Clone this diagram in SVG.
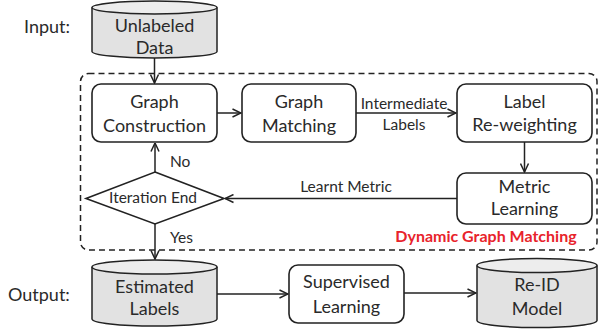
<svg xmlns="http://www.w3.org/2000/svg" width="599" height="331" viewBox="0 0 599 331">
<style>
text{font-family:Lato,"Liberation Sans",sans-serif;fill:#2a2a2a;font-size:18px}
.c{text-anchor:middle}
.s{font-size:15.5px}
.box{fill:#fff;stroke:#222;stroke-width:1.6}
.cylb{fill:#e2e2e2;stroke:#222;stroke-width:1.5}
.cylt{fill:#ededed;stroke:#222;stroke-width:1.5}
.ln{fill:none;stroke:#222;stroke-width:1.5}
.red{fill:#e8232b;font-weight:bold;font-size:16px}
</style>
<defs>
<marker id="ah" viewBox="0 0 10 10" refX="9.5" refY="5" markerWidth="10" markerHeight="10" markerUnits="userSpaceOnUse" orient="auto">
<path d="M1,1 L9.5,5 L1,9" fill="none" stroke="#222" stroke-width="1.5"/>
</marker>
</defs>
<rect x="80.5" y="73.5" width="516.5" height="176.5" rx="8" fill="none" stroke="#222" stroke-width="1.5" stroke-dasharray="6 4"/>
<text x="24" y="33">Input:</text>
<text x="8" y="301">Output:</text>
<g id="connectors">
<line class="ln" x1="154.5" y1="58" x2="154.5" y2="83" marker-end="url(#ah)"/>
<line class="ln" x1="217" y1="113" x2="241" y2="113" marker-end="url(#ah)"/>
<line class="ln" x1="356" y1="113" x2="456" y2="113" marker-end="url(#ah)"/>
<line class="ln" x1="524.5" y1="142" x2="524.5" y2="172" marker-end="url(#ah)"/>
<line class="ln" x1="457" y1="198.5" x2="225" y2="198.5" marker-end="url(#ah)"/>
<line class="ln" x1="155" y1="172" x2="155" y2="143" marker-end="url(#ah)"/>
<line class="ln" x1="155" y1="224" x2="155" y2="259" marker-end="url(#ah)"/>
<line class="ln" x1="217" y1="294" x2="288" y2="294" marker-end="url(#ah)"/>
<line class="ln" x1="404" y1="293" x2="476" y2="293" marker-end="url(#ah)"/>
<text class="c s" x="404" y="109">Intermediate</text>
<text class="c s" x="404" y="130">Labels</text>
<text class="c s" x="346" y="192">Learnt Metric</text>
<text class="s" x="170" y="167">No</text>
<text class="s" x="170" y="243">Yes</text>
</g>
<g id="unlabeled">
<path class="cylb" d="M92,7.5 V51.5 A62.5,6.5 0 0 0 217,51.5 V7.5"/>
<ellipse class="cylt" cx="154.5" cy="7.5" rx="62.5" ry="6.5"/>
<text class="c" x="154.5" y="32">Unlabeled</text>
<text class="c" x="154.5" y="54">Data</text>
</g>
<g id="construction">
<rect class="box" x="92" y="84" width="125" height="58" rx="9"/>
<text class="c" x="154.5" y="108">Graph</text>
<text class="c" x="154.5" y="132">Construction</text>
</g>
<g id="matching">
<rect class="box" x="242" y="84" width="114" height="58" rx="9"/>
<text class="c" x="299" y="108">Graph</text>
<text class="c" x="299" y="132">Matching</text>
</g>
<g id="reweighting">
<rect class="box" x="457" y="84" width="135" height="58" rx="9"/>
<text class="c" x="524.5" y="108">Label</text>
<text class="c" x="524.5" y="131">Re-weighting</text>
</g>
<g id="metric">
<rect class="box" x="457" y="173" width="135" height="51" rx="9"/>
<text class="c" x="524.5" y="193">Metric</text>
<text class="c" x="524.5" y="215">Learning</text>
</g>
<g id="iteration">
<path class="box" d="M155,172 L224,198.5 L155,224 L86,198.5 Z"/>
<text class="c s" x="153" y="203">Iteration End</text>
</g>
<text class="c red" x="486" y="242">Dynamic Graph Matching</text>
<g id="estimated">
<path class="cylb" d="M92,267 V319 A62.5,7 0 0 0 217,319 V267"/>
<ellipse class="cylt" cx="154.5" cy="267" rx="62.5" ry="7"/>
<text class="c" x="154.5" y="293">Estimated</text>
<text class="c" x="154.5" y="315">Labels</text>
</g>
<g id="supervised">
<rect class="box" x="289" y="265" width="115" height="58" rx="9"/>
<text class="c" x="346.5" y="288">Supervised</text>
<text class="c" x="346.5" y="313">Learning</text>
</g>
<g id="reid">
<path class="cylb" d="M477,265.5 V320.5 A60,7 0 0 0 597,320.5 V265.5"/>
<ellipse class="cylt" cx="537" cy="265.5" rx="60" ry="7"/>
<text class="c" x="537" y="291">Re-ID</text>
<text class="c" x="537" y="315">Model</text>
</g>
</svg>
